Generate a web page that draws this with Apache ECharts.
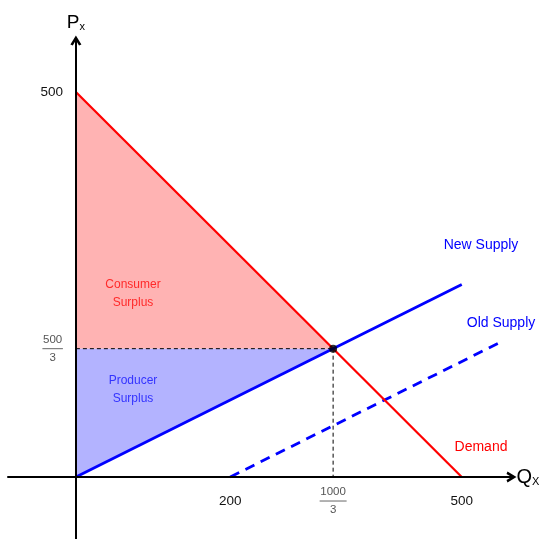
<!DOCTYPE html>
<html><head><meta charset="utf-8">
<script src="https://cdn.jsdelivr.net/npm/echarts@6/dist/echarts.min.js"></script>
<style>html,body{margin:0;padding:0;background:#fff}#c{width:543px;height:539px}</style>
</head><body><div id="c"></div>
<script>
// ---- data ----
const demand = [[0, 500], [500, 0]];
const newSupply = [[0, 0], [500, 250]];
const oldSupply = [[200, 0], [553, 176.5]];
const equilibrium = [[1000 / 3, 500 / 3]];
const consumerSurplus = [[0, 500], [0, 500 / 3], [1000 / 3, 500 / 3]];
const producerSurplus = [[0, 0], [0, 500 / 3], [1000 / 3, 500 / 3]];
const priceGuide = [[0, 500 / 3], [1000 / 3, 500 / 3]];
const quantityGuide = [[1000 / 3, 500 / 3], [1000 / 3, 0]];
const xTickValues = [200, 1000 / 3, 500];
const xTickLabels = ['200', '1000/3', '500'];
const yTickValues = [500 / 3, 500];
const yTickLabels = ['500/3', '500'];

const FONT = '"Liberation Sans", Arial, sans-serif';
const GRID = { left: 8, right: 31.5, top: 40.5, bottom: 0 };
const X_RANGE = [-88, 564.5];
const Y_RANGE = [-80.5, 566.9];
const W = 543, H = 539;
// pixel location of the origin, so the axes can be shifted onto it
const gridW = W - GRID.left - GRID.right, gridH = H - GRID.top - GRID.bottom;
const originX = GRID.left + (0 - X_RANGE[0]) / (X_RANGE[1] - X_RANGE[0]) * gridW;
const originY = GRID.top + (Y_RANGE[1] - 0) / (Y_RANGE[1] - Y_RANGE[0]) * gridH;

function makeFormatter(values, labels) {
  return function (v) {
    const i = values.findIndex(t => Math.abs(t - v) < 1e-6);
    if (i < 0) return '';
    const s = labels[i];
    if (s.indexOf('/') >= 0) {
      const [n, d] = s.split('/');
      const k = n.length;
      return '{n' + k + '|' + n + '}\n{b' + k + '| }\n{d' + k + '|' + d + '}';
    }
    return '{w|' + s + '}';
  };
}
function richStyles() {
  const r = { w: { fontSize: 13.5, color: '#111', fontFamily: FONT } };
  [3, 4].forEach(k => {
    const w = k * 6.5 + 1;
    r['n' + k] = { width: w, align: 'center', fontSize: 11.5, lineHeight: 14, color: '#555', fontFamily: FONT };
    r['b' + k] = { width: w, height: 1, lineHeight: 4, fontSize: 1, backgroundColor: '#666' };
    r['d' + k] = { width: w, align: 'center', fontSize: 11.5, lineHeight: 14, color: '#555', fontFamily: FONT };
  });
  return r;
}
const chevron = 'path://M0,9 L5.5,0 L11,9 L8.6,10 L5.5,4.8 L2.4,10 Z';

function polySeries(pts, color) {
  return {
    type: 'custom', data: [0], silent: true, z: 1,
    renderItem: (params, api) => ({
      type: 'polygon',
      shape: { points: pts.map(p => api.coord(p)) },
      style: { fill: color }
    })
  };
}
function lineSeries(data, color, width, type, z) {
  return {
    type: 'line', data: data, symbol: 'none', silent: true, z: z || 3,
    lineStyle: { color: color, width: width, type: type || 'solid' }
  };
}

const chart = echarts.init(document.getElementById('c'), null, { renderer: 'canvas' });
chart.setOption({
  animation: false,
  backgroundColor: '#fff',
  grid: Object.assign({ containLabel: false, outerBoundsMode: 'none' }, GRID),
  xAxis: {
    type: 'value', min: X_RANGE[0], max: X_RANGE[1], z: 10,
    position: 'bottom', offset: -(H - GRID.bottom - originY),
    axisLine: { onZero: false, lineStyle: { color: '#000', width: 2 }, symbol: ['none', chevron], symbolSize: [12, 10] },
    axisTick: { show: false }, splitLine: { show: false },
    axisLabel: { customValues: xTickValues, formatter: makeFormatter(xTickValues, xTickLabels), margin: 24, verticalAlign: 'middle', rich: richStyles() },
    name: '{p|Q}{s|X}', nameLocation: 'end', nameGap: 5,
    nameTextStyle: { rich: { p: { fontSize: 20, color: '#000', fontFamily: FONT }, s: { fontSize: 11, color: '#000', fontFamily: FONT, verticalAlign: 'bottom' } } }
  },
  yAxis: {
    type: 'value', min: Y_RANGE[0], max: Y_RANGE[1], z: 10,
    position: 'left', offset: -(originX - GRID.left),
    axisLine: { onZero: false, lineStyle: { color: '#000', width: 2 }, symbol: ['none', chevron], symbolSize: [12, 10] },
    axisTick: { show: false }, splitLine: { show: false },
    axisLabel: { customValues: yTickValues, formatter: makeFormatter(yTickValues, yTickLabels), margin: 13, rich: richStyles() },
    name: '{p|P}{s|x}', nameLocation: 'end', nameGap: 8,
    nameTextStyle: { rich: { p: { fontSize: 19, color: '#000', fontFamily: FONT }, s: { fontSize: 11, color: '#000', fontFamily: FONT, verticalAlign: 'bottom' } } }
  },
  series: [
    polySeries(consumerSurplus, 'rgb(255,179,179)'),
    polySeries(producerSurplus, 'rgb(179,179,255)'),
    lineSeries(priceGuide, '#000', 1, [4, 3], 2),
    lineSeries(quantityGuide, '#000', 1, [4, 3], 2),
    lineSeries(oldSupply, '#0000ff', 2.8, [10, 7], 3),
    lineSeries(demand, '#ff0000', 2.2, 'solid', 3),
    lineSeries(newSupply, '#0000ff', 2.8, 'solid', 4),
    { type: 'scatter', data: equilibrium, symbol: 'circle', symbolSize: 8, itemStyle: { color: '#000' }, z: 6, silent: true }
  ],
  graphic: [
    { type: 'text', x: 133, y: 294, z: 20, style: { text: 'Consumer\nSurplus', fill: '#ff2a2a', font: '12px ' + FONT, align: 'center', verticalAlign: 'middle', lineHeight: 18 } },
    { type: 'text', x: 133, y: 390, z: 20, style: { text: 'Producer\nSurplus', fill: '#3333ff', font: '12px ' + FONT, align: 'center', verticalAlign: 'middle', lineHeight: 18 } },
    { type: 'text', x: 481, y: 245, z: 20, style: { text: 'New Supply', fill: '#0000ff', font: '14px ' + FONT, align: 'center', verticalAlign: 'middle' } },
    { type: 'text', x: 501, y: 323, z: 20, style: { text: 'Old Supply', fill: '#0000ff', font: '14px ' + FONT, align: 'center', verticalAlign: 'middle' } },
    { type: 'text', x: 481, y: 447, z: 20, style: { text: 'Demand', fill: '#ff0000', font: '14px ' + FONT, align: 'center', verticalAlign: 'middle' } }
  ]
});
</script></body></html>
